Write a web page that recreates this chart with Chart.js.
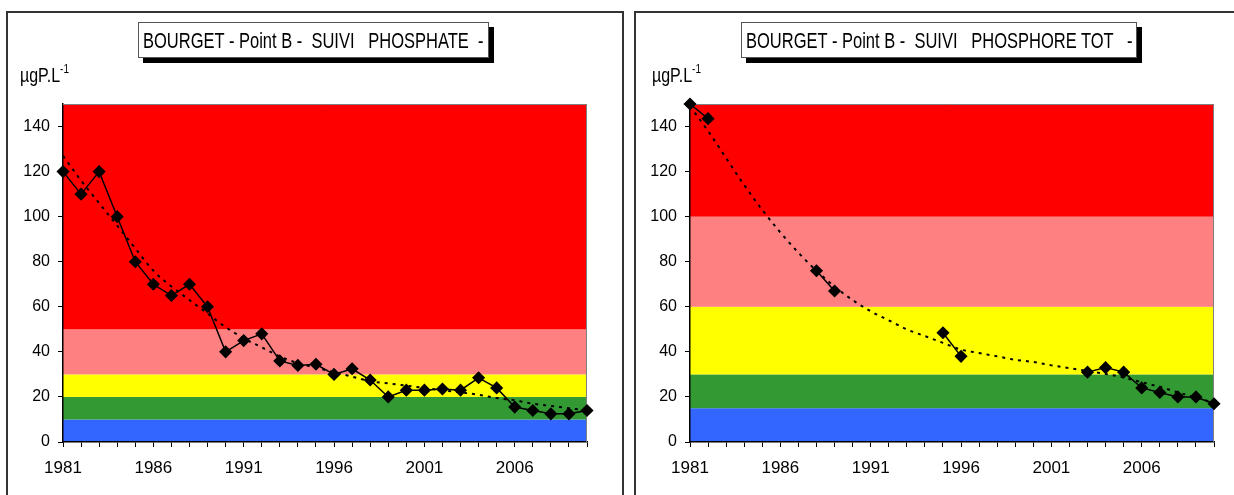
<!DOCTYPE html>
<html>
<head>
<meta charset="utf-8">
<script src="https://cdn.jsdelivr.net/npm/chart.js@4.4.1/dist/chart.umd.min.js"></script>
<style>
  body { margin: 0; background: #fff; width: 1234px; height: 495px; overflow: hidden; position: relative;
         font-family: 'Liberation Sans', Arial, sans-serif; }
  .frame { position: absolute; top: 11px; height: 520px; box-sizing: border-box; border: 2px solid #333; border-bottom: none; }
  .title { position: absolute; top: 22px; height: 36px; box-sizing: border-box; border: 1px solid #555; background: #fff;
           box-shadow: 5px 5px 0 #000; white-space: pre; font-size: 16.5px; line-height: 34px; padding-left: 4px; }
  .title span, .unit span.t { display: inline-block; transform: scaleY(1.3); }
  .unit { position: absolute; top: 64px; font-size: 16px; white-space: pre; }
  .unit sup { font-size: 10px; vertical-align: 7px; }
  canvas { position: absolute; top: 0; }
</style>
</head>
<body>
<div class="frame" style="left:6px;width:618px;"></div>
<div class="frame" style="left:634px;width:620px;border-right:none;"></div>

<canvas id="chartPO4" width="630" height="495" style="left:0"></canvas>
<canvas id="chartPT" width="604" height="495" style="left:630px"></canvas>

<div class="title" style="left:138px;width:351px;"><span>BOURGET - Point B -  SUIVI   PHOSPHATE  -</span></div>
<div class="title" style="left:741px;width:396px;"><span>BOURGET - Point B -  SUIVI   PHOSPHORE TOT   -</span></div>
<div class="unit" style="left:20px;"><span class="t">µgP.L<sup>-1</sup></span></div>
<div class="unit" style="left:652px;"><span class="t">µgP.L<sup>-1</sup></span></div>

<script>
// ===== Data =====
const years = [1981, 1982, 1983, 1984, 1985, 1986, 1987, 1988, 1989, 1990,
               1991, 1992, 1993, 1994, 1995, 1996, 1997, 1998, 1999, 2000,
               2001, 2002, 2003, 2004, 2005, 2006, 2007, 2008, 2009, 2010];
const xTickLabels = ['1981', '1986', '1991', '1996', '2001', '2006'];
const yTickValues = [0, 20, 40, 60, 80, 100, 120, 140];

// Phosphate (left)
const phosphate = [120, 110, 120, 100, 80, 70, 65, 70, 60, 40,
                   45, 48, 36, 34, 34.5, 30, 32.5, 27.5, 20, 23,
                   23, 23.5, 23, 28.5, 24, 15.5, 14, 12.5, 12.5, 14];
const phosphateTrend = [127, 116, 106, 96, 86, 76, 69, 63, 57, 51,
                        46, 42, 38, 35, 33, 31, 29, 27, 26, 25,
                        24, 23, 22, 21, 19.5, 18.5, 17, 16, 15, 14];
const phosphateBandEdges = [0, 10, 20, 30, 50, 150];

// Phosphore total (right)
const phosphoreTot = [150, 143.5, null, null, null, null, null, 76, 67, null,
                      null, null, null, null, 48.5, 38, null, null, null, null,
                      null, null, 31, 33, 31, 24, 22, 20, 20, 17];
const phosphoreTotTrend = [149, 138, 126, 114, 103, 93, 84, 76, 69, 63,
                           58, 54, 50, 47, 44, 41, 39.5, 38, 36.5, 35.5,
                           34, 32.8, 31.5, 30.2, 28.6, 26.5, 24.5, 22, 19.8, 17.3];
const phosphoreTotBandEdges = [0, 15, 30, 60, 100, 150];

const bandColors = ['#3366FF', '#339933', '#FFFF00', '#FF8080', '#FF0000'];

// Coloured quality bands behind the series, placed through the y scale
const bandsPlugin = {
  id: 'bands',
  beforeDraw(chart, args, opts) {
    const { ctx, chartArea: a, scales: { y } } = chart;
    ctx.save();
    for (let i = 0; i < opts.edges.length - 1; i++) {
      const top = y.getPixelForValue(opts.edges[i + 1]);
      const bottom = y.getPixelForValue(opts.edges[i]);
      ctx.fillStyle = opts.colors[i];
      ctx.fillRect(a.left, top, a.right - a.left, bottom - top);
    }
    ctx.restore();
  },
  beforeDatasetsDraw(chart) {
    const { ctx, chartArea: a } = chart;
    ctx.save();
    ctx.strokeStyle = '#808080';
    ctx.lineWidth = 1;
    ctx.beginPath();
    ctx.moveTo(a.left, a.top + 0.5);
    ctx.lineTo(a.right - 0.5, a.top + 0.5);
    ctx.lineTo(a.right - 0.5, a.bottom);
    ctx.stroke();
    ctx.restore();
  }
};

const yFont = { family: "'Liberation Sans', Arial, sans-serif", size: 16 };
const xFont = { family: "'Liberation Sans', Arial, sans-serif", size: 17 };

function makeChart(id, values, trend, edges, yAxisWidth, padRight) {
  return new Chart(document.getElementById(id), {
    type: 'line',
    data: {
      labels: years,
      datasets: [{
        data: values,
        borderColor: '#000',
        borderWidth: 1.5,
        pointStyle: 'rectRot',
        pointRadius: 5.5,
        pointBackgroundColor: '#000',
        pointBorderColor: '#000',
        spanGaps: false,
        clip: false
      }, {
        data: trend,
        borderColor: '#000',
        borderWidth: 2,
        borderDash: [3, 5],
        pointRadius: 0,
        cubicInterpolationMode: 'monotone',
        clip: false
      }]
    },
    options: {
      responsive: false,
      animation: false,
      devicePixelRatio: 1,
      events: [],
      layout: { padding: { top: 104, right: padRight, left: 0, bottom: 0 } },
      plugins: {
        legend: { display: false },
        tooltip: { enabled: false },
        bands: { edges: edges, colors: bandColors }
      },
      scales: {
        x: {
          type: 'category',
          offset: false,
          afterFit(scale) { scale.height = 53; },
          grid: { drawOnChartArea: false, drawTicks: true, tickLength: 5, color: '#000' },
          border: { color: '#000', width: 1.5 },
          ticks: {
            autoSkip: false,
            maxRotation: 0,
            padding: 11,
            color: '#000',
            font: xFont,
            callback(v, i) {
              const label = String(years[i]);
              return xTickLabels.includes(label) ? label : '';
            }
          }
        },
        y: {
          min: 0,
          max: 150,
          afterFit(scale) { scale.width = yAxisWidth; },
          afterBuildTicks(scale) { scale.ticks = yTickValues.map(v => ({ value: v })); },
          grid: { drawOnChartArea: false, drawTicks: true, tickLength: 5, color: '#000' },
          border: { color: '#000', width: 1.5 },
          ticks: { padding: 8, color: '#000', font: yFont }
        }
      }
    },
    plugins: [bandsPlugin]
  });
}

makeChart('chartPO4', phosphate, phosphateTrend, phosphateBandEdges, 63, 43);
makeChart('chartPT', phosphoreTot, phosphoreTotTrend, phosphoreTotBandEdges, 60, 20);
</script>
</body>
</html>
